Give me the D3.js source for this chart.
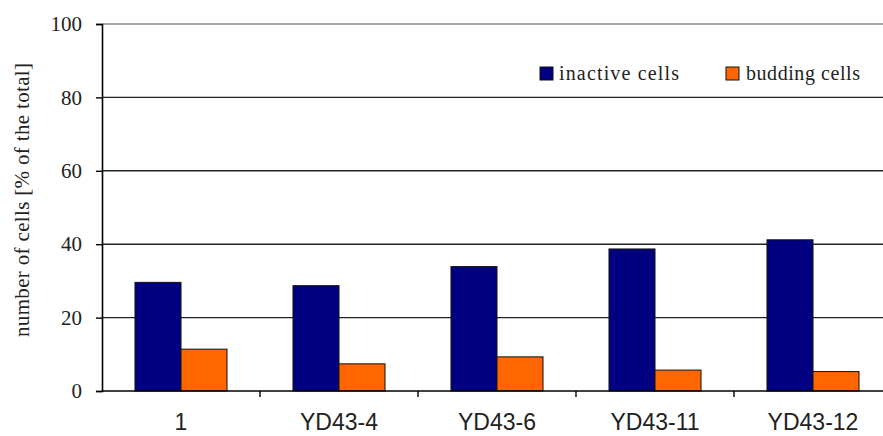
<!DOCTYPE html>
<html>
<head>
<meta charset="utf-8">
<script src="https://cdn.jsdelivr.net/npm/d3@7"></script>
<style>
  html, body { margin: 0; padding: 0; background: #fff; }
  svg { display: block; }
</style>
</head>
<body>
<svg id="chart" width="883" height="436"></svg>
<script>
// Cell counts per strain, as a share of the total
const categories = ["1", "YD43-4", "YD43-6", "YD43-11", "YD43-12"];
const seriesNames = ["inactive cells", "budding cells"];
const inactiveCells = [29.6, 28.7, 33.9, 38.7, 41.2];
const buddingCells = [11.4, 7.4, 9.3, 5.7, 5.3];
const yTicks = [0, 20, 40, 60, 80, 100];

const colors = { "inactive cells": "#000080", "budding cells": "#ff6600" };
const rows = categories.map((c, i) => ({
  category: c,
  values: [
    { key: "inactive cells", value: inactiveCells[i] },
    { key: "budding cells", value: buddingCells[i] }
  ]
}));

const svg = d3.select("#chart");
const plotLeft = 102, plotTop = 24, plotBottom = 391;

const y = d3.scaleLinear().domain([0, 100]).range([plotBottom, plotTop]);
const x0 = d3.scaleBand().domain(categories).range([plotLeft, plotLeft + 790]).paddingInner(0).paddingOuter(0);
const x1 = d3.scaleBand().domain(seriesNames).range([0, x0.bandwidth()]).paddingInner(0).paddingOuter(0.717);

// Horizontal gridlines
svg.append("g")
  .selectAll("line")
  .data(yTicks.filter(t => t > 0))
  .join("line")
  .attr("x1", plotLeft).attr("x2", 883)
  .attr("y1", d => y(d)).attr("y2", d => y(d))
  .attr("stroke", d => d === 100 ? "#8a8a8a" : "#222")
  .attr("stroke-width", 1.4);

// Bars
const groups = svg.append("g")
  .selectAll("g")
  .data(rows)
  .join("g")
  .attr("transform", d => `translate(${x0(d.category)},0)`);

groups.selectAll("rect")
  .data(d => d.values)
  .join("rect")
  .attr("x", d => x1(d.key))
  .attr("y", d => y(d.value))
  .attr("width", x1.bandwidth())
  .attr("height", d => y(0) - y(d.value))
  .attr("fill", d => colors[d.key])
  .attr("stroke", "#111")
  .attr("stroke-width", 1);

// Y axis
const yAxis = d3.axisLeft(y).tickValues(yTicks).tickSize(6).tickPadding(14);
const gy = svg.append("g").attr("transform", `translate(${plotLeft},0)`).call(yAxis);
gy.select(".domain").attr("stroke", "#000").attr("stroke-width", 1.6);
gy.selectAll(".tick line").attr("stroke", "#000").attr("stroke-width", 1.4);
gy.selectAll(".tick text")
  .attr("font-family", "'Liberation Serif', 'Times New Roman', serif")
  .attr("font-size", 21)
  .attr("fill", "#222");

// X axis: baseline with separator ticks between categories
svg.append("line")
  .attr("x1", plotLeft).attr("x2", 883)
  .attr("y1", y(0)).attr("y2", y(0))
  .attr("stroke", "#000").attr("stroke-width", 1.6);

svg.append("g")
  .selectAll("line")
  .data(categories.slice(1))
  .join("line")
  .attr("x1", d => x0(d)).attr("x2", d => x0(d))
  .attr("y1", y(0)).attr("y2", y(0) + 6)
  .attr("stroke", "#000").attr("stroke-width", 1.4);

svg.append("g")
  .selectAll("text")
  .data(categories)
  .join("text")
  .attr("x", d => x0(d) + x0.bandwidth() / 2)
  .attr("y", 430)
  .attr("text-anchor", "middle")
  .attr("font-family", "'Liberation Sans', Arial, sans-serif")
  .attr("font-size", 23)
  .attr("fill", "#222")
  .text(d => d);

// Y axis title
svg.append("text")
  .attr("transform", "translate(29,200) rotate(-90)")
  .attr("text-anchor", "middle")
  .attr("font-family", "'Liberation Serif', 'Times New Roman', serif")
  .attr("font-size", 21)
  .attr("fill", "#222")
  .attr("textLength", 274)
  .attr("lengthAdjust", "spacing")
  .text("number of cells  [% of the total]");

// Legend on a white panel over the gridline
const legend = svg.append("g");
legend.append("rect")
  .attr("x", 514).attr("y", 52).attr("width", 364).attr("height", 42)
  .attr("fill", "#fff");

const legendItems = [
  { key: "inactive cells", sx: 540, tx: 559, len: 120 },
  { key: "budding cells", sx: 726, tx: 746, len: 114 }
];
legendItems.forEach(it => {
  legend.append("rect")
    .attr("x", it.sx).attr("y", 67).attr("width", 13).attr("height", 13)
    .attr("fill", colors[it.key])
    .attr("stroke", "#111").attr("stroke-width", 1);
  legend.append("text")
    .attr("x", it.tx).attr("y", 80)
    .attr("font-family", "'Liberation Serif', 'Times New Roman', serif")
    .attr("font-size", 20)
    .attr("fill", "#222")
    .attr("textLength", it.len)
    .attr("lengthAdjust", "spacing")
    .text(it.key);
});
</script>
</body>
</html>
